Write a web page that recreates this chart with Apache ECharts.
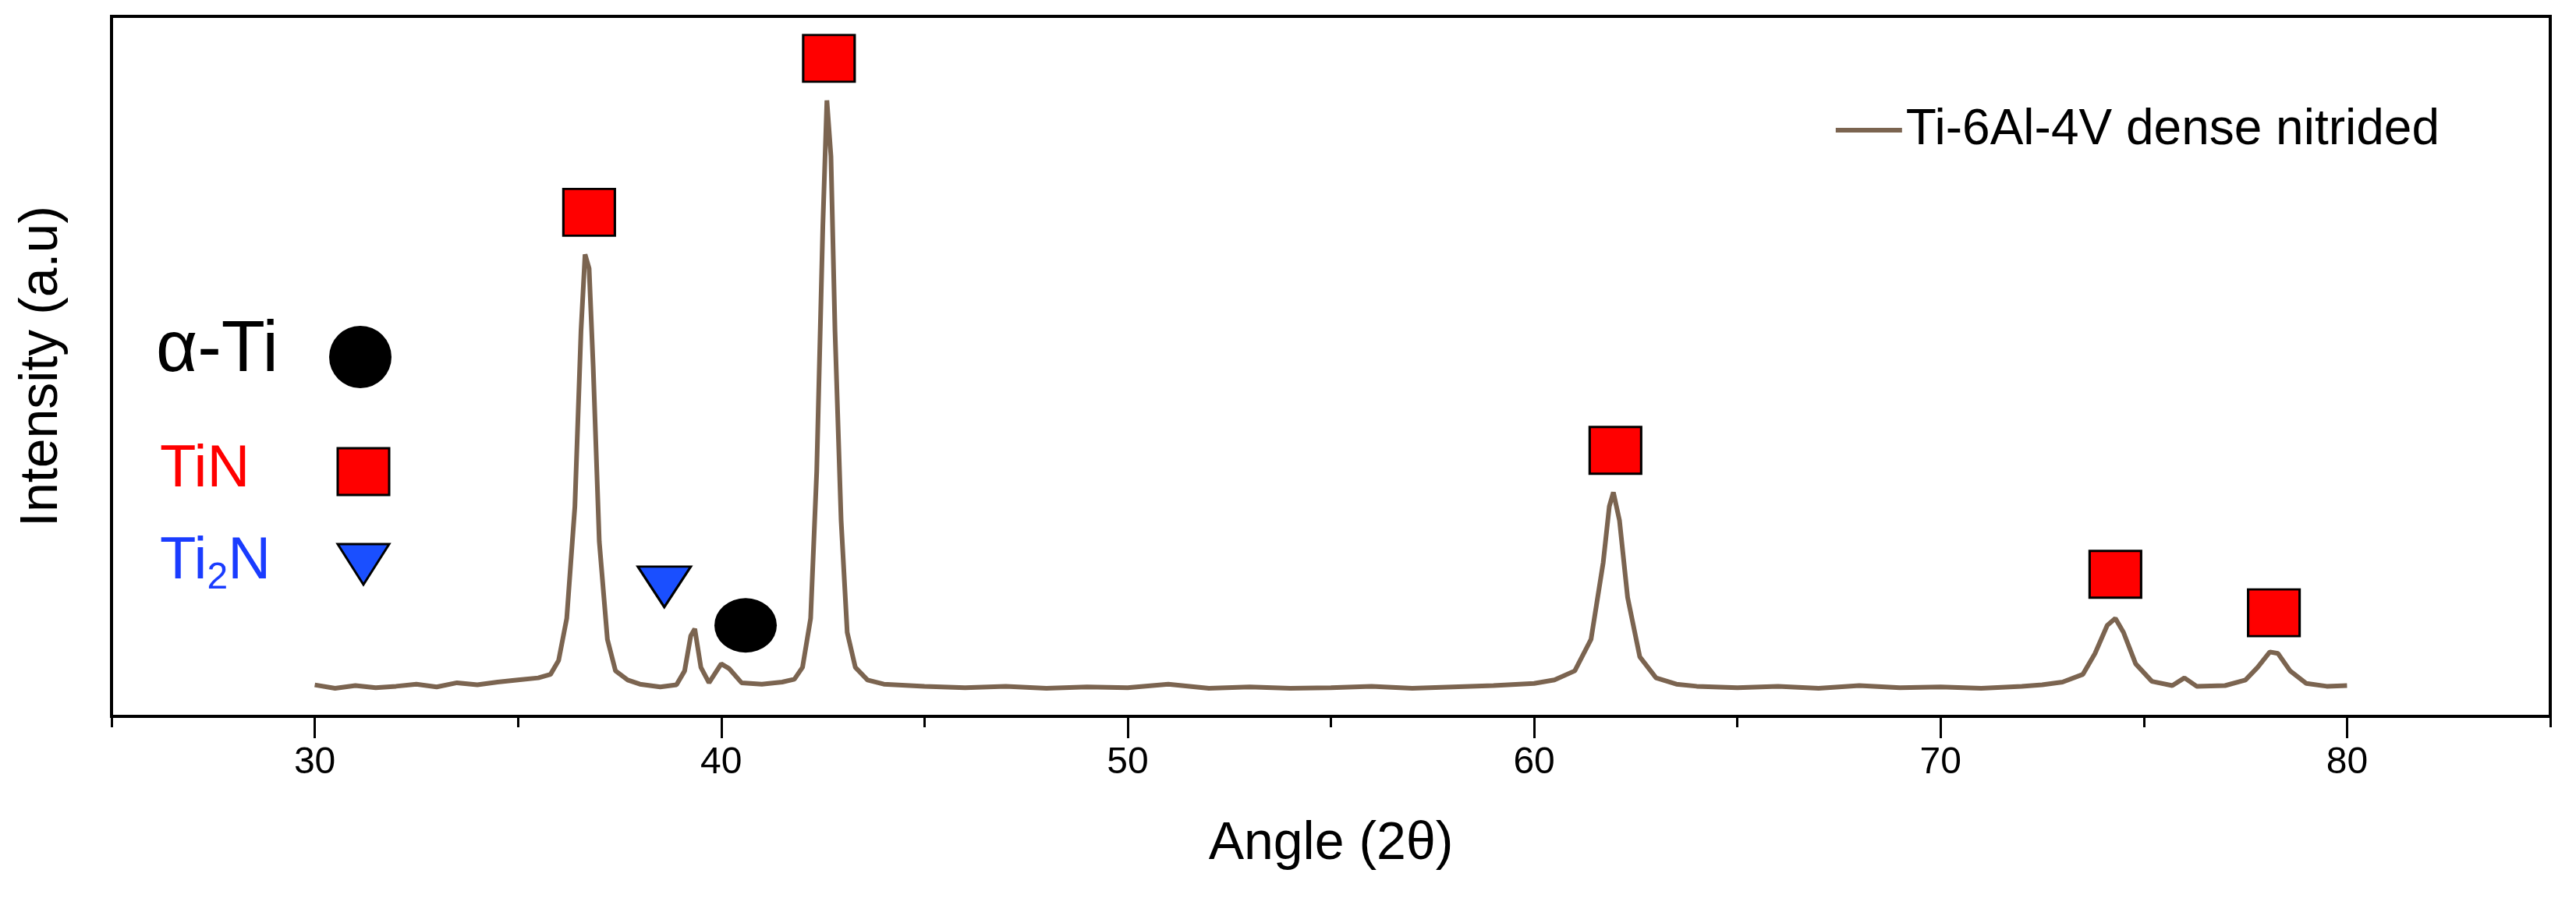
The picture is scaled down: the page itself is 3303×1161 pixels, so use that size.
<!DOCTYPE html>
<html>
<head>
<meta charset="utf-8">
<script src="https://cdn.jsdelivr.net/npm/echarts@6/dist/echarts.min.js"></script>
<style>html,body{margin:0;padding:0;background:#fff}#c{width:3303px;height:1161px}</style>
</head>
<body>
<div id="c"></div>
<script>
// XRD pattern (angle, intensity in arbitrary units)
const angles = [30,30.5,31,31.5,32,32.5,33,33.5,34,34.5,35,35.5,35.8,36.0,36.2,36.4,36.55,36.65,36.75,36.85,37.0,37.2,37.4,37.7,38,38.5,38.9,39.1,39.25,39.35,39.5,39.7,40.0,40.2,40.5,41,41.5,41.8,42.0,42.2,42.35,42.5,42.6,42.7,42.8,42.95,43.1,43.3,43.6,44,45,46,47,48,49,50,51,52,53,54,55,56,57,58,59,60,60.5,61,61.4,61.7,61.85,61.95,62.1,62.3,62.6,63,63.5,64,65,66,67,68,69,70,71,72,72.5,73,73.5,73.8,74.1,74.3,74.5,74.8,75.2,75.7,76.0,76.3,77,77.5,77.8,78.1,78.3,78.6,79,79.5,80];
const intensity = [4.5,4.0,4.4,4.1,4.3,4.6,4.2,4.8,4.5,4.9,5.2,5.5,6.0,8,14,30,55,66,64,50,25,11,6.5,5.2,4.6,4.2,4.5,6.5,11.5,12.5,7,4.8,7.5,6.8,4.8,4.6,4.9,5.3,7,14,35,70,88,80,55,28,12,7,5.2,4.6,4.3,4.1,4.3,4.0,4.2,4.1,4.6,4.0,4.2,4.0,4.1,4.3,4.0,4.2,4.4,4.7,5.2,6.5,11,22,30,32,28,17,8.5,5.5,4.6,4.3,4.1,4.3,4.0,4.4,4.1,4.2,4.0,4.3,4.5,4.9,6,9,13,14,12,7.5,5,4.4,5.5,4.3,4.4,5.2,7,9.2,9,6.5,4.7,4.3,4.4];
const labelTicks = [30,40,50,60,70,80];

// phase markers placed above peaks
const tinMarks = [[36.75,72],[42.65,94],[62.0,38],[74.3,20.3],[78.2,14.8]];
const ti2nMarks = [[38.6,18.5]];
const alphaMarks = [[40.6,13]];

const lineColor = '#7b6450';
const font = 'Liberation Sans';
const chart = echarts.init(document.getElementById('c'));
chart.setOption({
  animation: false,
  grid: { left: 143, right: 33, top: 21, bottom: 242 },
  xAxis: [{
    type: 'value', min: 25, max: 85, interval: 5,
    name: 'Angle (2θ)', nameLocation: 'middle', nameGap: 130,
    nameTextStyle: { fontSize: 68, fontFamily: font, color: '#000' },
    axisLine: { lineStyle: { color: '#000', width: 4 } },
    axisTick: { show: true, length: 14, lineStyle: { color: '#000', width: 3 } },
    axisLabel: { fontSize: 48, margin: 36, color: '#000', fontFamily: font, customValues: labelTicks },
    splitLine: { show: false }
  }, {
    type: 'value', min: 25, max: 85, position: 'bottom',
    axisLine: { show: false },
    axisTick: { show: true, length: 28, customValues: labelTicks, lineStyle: { color: '#000', width: 3 } },
    axisLabel: { show: false }, splitLine: { show: false }
  }],
  yAxis: {
    type: 'value', min: 0, max: 100,
    name: 'Intensity (a.u)', nameLocation: 'middle', nameGap: 55,
    nameTextStyle: { fontSize: 68, fontFamily: font, color: '#000' },
    axisLine: { show: true, lineStyle: { color: '#000', width: 4 } },
    axisTick: { show: false }, axisLabel: { show: false }, splitLine: { show: false }
  },
  legend: {
    right: 170, top: 130, itemWidth: 85, itemHeight: 6, icon: 'rect', itemGap: 10,
    textStyle: { fontSize: 64, fontFamily: font, color: '#000' },
    data: ['Ti-6Al-4V dense nitrided']
  },
  graphic: [
    { type: 'rect', shape: { x: 143, y: 21, width: 3303 - 143 - 33, height: 1161 - 21 - 242 },
      style: { fill: 'none', stroke: '#000', lineWidth: 4 }, silent: true },
    { type: 'text', left: 200, top: 405, style: { text: 'α-Ti', fontSize: 92, fill: '#000', fontFamily: font } },
    { type: 'circle', shape: { cx: 462, cy: 458, r: 40 }, style: { fill: '#000' } },
    { type: 'text', left: 205, top: 565, style: { text: 'TiN', fontSize: 76, fill: '#ff0000', fontFamily: font } },
    { type: 'rect', shape: { x: 433, y: 575, width: 66, height: 60 }, style: { fill: '#ff0000', stroke: '#000', lineWidth: 3 } },
    { type: 'text', left: 205, top: 683, style: { rich: { a: { fontSize: 76, fill: '#1a3cff', fontFamily: font }, s: { fontSize: 48, fill: '#1a3cff', fontFamily: font, padding: [42, 0, 0, 0] } }, text: '{a|Ti}{s|2}{a|N}' } },
    { type: 'polygon', shape: { points: [[433, 698], [499, 698], [466, 750]] }, style: { fill: '#1a4fff', stroke: '#000', lineWidth: 3 } }
  ],
  series: [
    { name: 'Ti-6Al-4V dense nitrided', type: 'line', showSymbol: false, color: lineColor,
      lineStyle: { width: 6, color: lineColor },
      data: angles.map((a, i) => [a, intensity[i]]) },
    { type: 'scatter', symbol: 'rect', symbolSize: [66, 60], data: tinMarks,
      itemStyle: { color: '#ff0000', borderColor: '#000', borderWidth: 3, opacity: 1 } },
    { type: 'scatter', symbol: 'triangle', symbolRotate: 180, symbolSize: [68, 52], data: ti2nMarks,
      itemStyle: { color: '#1a4fff', borderColor: '#000', borderWidth: 3, opacity: 1 } },
    { type: 'scatter', symbol: 'circle', symbolSize: [80, 70], data: alphaMarks,
      itemStyle: { color: '#000', opacity: 1 } }
  ]
});
</script>
</body>
</html>
